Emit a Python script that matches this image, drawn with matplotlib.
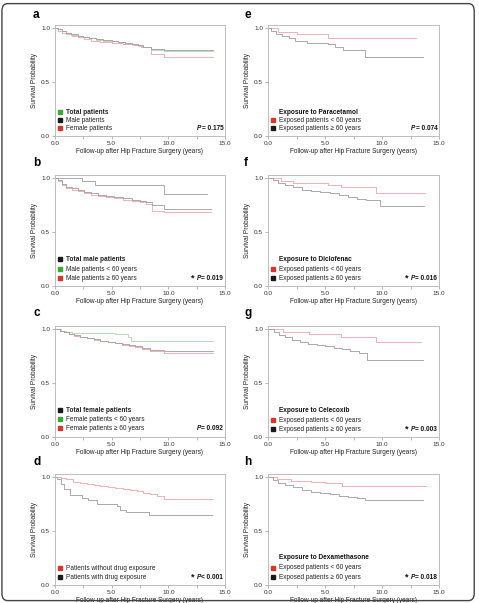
import matplotlib
matplotlib.use('Agg')
import matplotlib.pyplot as plt
from matplotlib.patches import FancyBboxPatch

plt.rcParams['font.family'] = ['Liberation Sans', 'DejaVu Sans']

# ---- data (follow-up years / survival probability) ----
a_total_t = [0, 0.3, 0.6, 1.0, 1.4, 2.0, 2.5, 3.0, 3.6, 4.2, 5.0, 5.6, 6.2, 6.8, 7.3, 7.8, 8.5, 9.6, 13.9]
a_total_s = [1.0, 0.99, 0.972, 0.955, 0.94, 0.925, 0.915, 0.905, 0.895, 0.885, 0.878, 0.868, 0.858, 0.848, 0.838, 0.822, 0.80, 0.787, 0.787]
a_male_t = [0, 0.3, 0.6, 1.0, 1.4, 2.0, 2.5, 3.0, 3.6, 4.2, 5.0, 5.6, 6.2, 6.8, 7.3, 7.8, 8.5, 9.6, 13.9]
a_male_s = [1.0, 0.99, 0.975, 0.96, 0.945, 0.93, 0.92, 0.91, 0.90, 0.89, 0.885, 0.875, 0.865, 0.855, 0.845, 0.83, 0.81, 0.80, 0.80]
a_female_t = [0, 0.3, 0.6, 1.0, 1.5, 2.0, 2.6, 3.2, 4.0, 5.0, 6.0, 7.0, 7.6, 8.5, 9.6, 13.9]
a_female_s = [1.0, 0.975, 0.955, 0.945, 0.93, 0.915, 0.90, 0.885, 0.875, 0.865, 0.855, 0.84, 0.825, 0.765, 0.73, 0.73]

b_total_t = [0, 0.3, 0.6, 1.0, 1.5, 2.0, 2.6, 3.2, 3.8, 4.5, 5.2, 6.0, 6.8, 7.5, 8.0, 8.6, 9.6, 13.8]
b_total_s = [1.0, 0.98, 0.95, 0.915, 0.905, 0.89, 0.875, 0.86, 0.845, 0.835, 0.825, 0.815, 0.80, 0.79, 0.78, 0.75, 0.715, 0.715]
b_young_t = [0, 2.4, 3.5, 9.6, 13.4]
b_young_s = [1.0, 0.97, 0.935, 0.85, 0.85]
b_old_t = [0, 0.3, 0.6, 1.0, 1.5, 2.0, 2.6, 3.2, 3.8, 4.5, 5.2, 6.0, 6.8, 7.5, 8.0, 8.6, 9.6, 13.8]
b_old_s = [1.0, 0.975, 0.94, 0.905, 0.895, 0.88, 0.862, 0.847, 0.832, 0.822, 0.812, 0.80, 0.787, 0.775, 0.762, 0.70, 0.69, 0.69]

c_total_t = [0, 0.4, 0.8, 1.2, 1.7, 2.2, 2.8, 3.4, 4.0, 4.7, 5.3, 5.9, 6.5, 7.1, 7.7, 8.4, 9.6, 13.9]
c_total_s = [1.0, 0.985, 0.975, 0.96, 0.945, 0.93, 0.92, 0.905, 0.895, 0.885, 0.875, 0.865, 0.85, 0.84, 0.83, 0.81, 0.795, 0.795]
c_young_t = [0, 0.5, 1.0, 1.5, 5.3, 6.4, 6.7, 13.9]
c_young_s = [1.0, 0.985, 0.97, 0.965, 0.955, 0.93, 0.895, 0.895]
c_old_t = [0, 0.4, 0.8, 1.2, 1.7, 2.2, 2.8, 3.4, 4.0, 4.7, 5.3, 5.9, 6.5, 7.1, 7.7, 8.4, 9.6, 13.9]
c_old_s = [1.0, 0.985, 0.973, 0.957, 0.94, 0.925, 0.915, 0.90, 0.89, 0.88, 0.868, 0.858, 0.843, 0.832, 0.82, 0.80, 0.782, 0.782]

d_nodrug_t = [0, 0.5, 1.0, 1.6, 2.2, 2.8, 3.4, 4.0, 4.7, 5.3, 6.0, 6.6, 7.2, 7.8, 8.4, 9.0, 9.6, 13.9]
d_nodrug_s = [1.0, 0.99, 0.98, 0.96, 0.945, 0.935, 0.925, 0.915, 0.905, 0.90, 0.89, 0.88, 0.87, 0.855, 0.84, 0.825, 0.80, 0.80]
d_drug_t = [0, 0.2, 0.5, 0.8, 1.3, 2.4, 2.9, 3.7, 5.45, 5.7, 6.3, 8.3, 13.85]
d_drug_s = [1.0, 0.98, 0.94, 0.89, 0.835, 0.81, 0.785, 0.755, 0.735, 0.70, 0.68, 0.645, 0.645]

e_young_t = [0, 0.9, 2.5, 5.3, 13.0]
e_young_s = [1.0, 0.965, 0.945, 0.905, 0.905]
e_old_t = [0, 0.3, 0.7, 1.2, 1.8, 2.4, 3.4, 5.3, 5.9, 6.6, 8.5, 13.6]
e_old_s = [1.0, 0.975, 0.95, 0.93, 0.905, 0.885, 0.865, 0.85, 0.83, 0.80, 0.73, 0.73]

f_young_t = [0, 1.1, 2.2, 5.3, 6.4, 9.5, 13.8]
f_young_s = [1.0, 0.97, 0.955, 0.94, 0.915, 0.865, 0.865]
f_old_t = [0, 0.4, 0.9, 1.5, 2.2, 3.0, 3.8, 4.6, 5.4, 6.2, 7.0, 7.8, 8.6, 9.8, 13.7]
f_old_s = [1.0, 0.98, 0.955, 0.935, 0.915, 0.895, 0.88, 0.87, 0.86, 0.845, 0.825, 0.805, 0.795, 0.745, 0.745]

g_young_t = [0, 1.3, 3.6, 6.4, 9.5, 13.4]
g_young_s = [1.0, 0.97, 0.955, 0.925, 0.88, 0.88]
g_old_t = [0, 0.5, 1.0, 1.5, 2.1, 2.8, 3.5, 4.3, 5.0, 5.8, 6.5, 7.2, 8.0, 8.7, 13.6]
g_old_s = [1.0, 0.975, 0.95, 0.925, 0.90, 0.88, 0.86, 0.85, 0.84, 0.825, 0.815, 0.795, 0.78, 0.71, 0.71]

h_young_t = [0, 0.8, 2.0, 3.8, 5.0, 6.5, 13.9]
h_young_s = [1.0, 0.98, 0.965, 0.955, 0.945, 0.92, 0.92]
h_old_t = [0, 0.4, 0.9, 1.5, 2.2, 3.0, 3.8, 4.6, 5.4, 6.2, 7.0, 7.8, 8.5, 13.6]
h_old_s = [1.0, 0.975, 0.95, 0.925, 0.905, 0.885, 0.865, 0.855, 0.845, 0.83, 0.82, 0.81, 0.785, 0.785]

p_values = ['0.175', '0.019', '0.092', '< 0.001', '0.074', '0.016', '0.003', '0.018']
significant = [False, True, False, True, False, True, True, True]
panel_letters = ['a', 'b', 'c', 'd', 'e', 'f', 'g', 'h']
drug_names = ['Paracetamol', 'Diclofenac', 'Celecoxib', 'Dexamethasone']

# colours
LINE_GREY = '#a3a3a3'
LINE_PINK = '#efabab'
LINE_GREEN = '#b2d8b2'
SQ_GREEN = '#3aa935'
SQ_BLACK = '#1a1a1a'
SQ_RED = '#d8352b'

W, H = 479, 603
fig = plt.figure(figsize=(W / 100, H / 100), dpi=100)

# rounded outer frame
fig.patches.append(FancyBboxPatch((0.004, 0.004), 0.986, 0.990,
                                  boxstyle='round,pad=0,rounding_size=0.012',
                                  transform=fig.transFigure, fill=False,
                                  edgecolor='#444444', linewidth=1.0))

col_x = [55, 268]
col_w = [170, 171]
row_bottom = [136, 286, 437, 585]
ax_h = 111


def make_axes(col, row):
    left = col_x[col] / W
    bottom = 1 - row_bottom[row] / H
    ax = fig.add_axes([left, bottom, col_w[col] / W, ax_h / H])
    ax.set_xlim(0, 15)
    ax.set_ylim(0, 1.03)
    ax.set_xticks([0, 5, 10, 15])
    ax.set_xticklabels(['0.0', '5.0', '10.0', '15.0'])
    ax.set_xticks([2.5, 7.5, 12.5], minor=True)
    ax.set_yticks([0, 0.5, 1.0])
    ax.set_yticklabels(['0.0', '0.5', '1.0'])
    ax.tick_params(axis='both', which='both', labelsize=4.6, length=2,
                   width=0.5, color='#999999', pad=1.5, labelcolor='#333333')
    for sp in ax.spines.values():
        sp.set_color('#bdbdbd')
        sp.set_linewidth(0.7)
    ax.set_xlabel('Follow-up after Hip Fracture Surgery (years)', fontsize=4.7,
                  labelpad=1.5, color='#222222')
    ax.set_ylabel('Survival Probability', fontsize=4.7, labelpad=2.5, color='#222222')
    return ax


def add_legend(ax, items, title=None, title_y=None):
    if title is not None:
        ax.text(0.064, title_y, title, transform=ax.transAxes, fontsize=4.7,
                fontweight='bold', va='center', ha='left', color='#111111')
    for label, color, y, bold in items:
        ax.plot([0.03], [y], marker='s', markersize=2.8, color=color,
                transform=ax.transAxes, clip_on=False)
        ax.text(0.064, y, label, transform=ax.transAxes, fontsize=4.7,
                fontweight='bold' if bold else 'normal', va='center', ha='left',
                color='#222222')


def add_pvalue(ax, p, star, y):
    num = ax.text(0.99, y, '= ' + p if not p.startswith('<') else p,
                  transform=ax.transAxes, fontsize=4.7, fontweight='bold',
                  ha='right', va='center', color='#111111')
    pl = ax.annotate('P', xy=(0, 0.5), xycoords=num, fontsize=4.7, fontweight='bold',
                     fontstyle='italic', ha='right', va='center', color='#111111')
    if star:
        ax.annotate('* ', xy=(0, 0.45), xycoords=pl, fontsize=6.5, fontweight='bold',
                    ha='right', va='center', color='#111111')


def km(ax, t, s, color):
    ax.step(t, s, where='post', color=color, linewidth=0.65)


def letter(col, row, txt):
    x = [33, 244][col] / W
    y = 1 - [15, 163, 313, 462][row] / H
    fig.text(x, y, txt, fontsize=8.5, fontweight='bold', ha='left', va='center')


# ---- left column ----
ax = make_axes(0, 0)
km(ax, a_total_t, a_total_s, LINE_GREEN)
km(ax, a_female_t, a_female_s, LINE_PINK)
km(ax, a_male_t, a_male_s, LINE_GREY)
add_legend(ax, [('Total patients', SQ_GREEN, 0.216, True),
                ('Male patients', SQ_BLACK, 0.144, False),
                ('Female patients', SQ_RED, 0.072, False)])
add_pvalue(ax, p_values[0], significant[0], 0.072)

ax = make_axes(0, 1)
km(ax, b_young_t, b_young_s, LINE_GREY)
km(ax, b_old_t, b_old_s, LINE_PINK)
km(ax, b_total_t, b_total_s, LINE_GREY)
add_legend(ax, [('Total male patients', SQ_BLACK, 0.243, True),
                ('Male patients < 60 years', SQ_GREEN, 0.153, False),
                ('Male patients \u2265 60 years', SQ_RED, 0.072, False)])
add_pvalue(ax, p_values[1], significant[1], 0.072)

ax = make_axes(0, 2)
km(ax, c_young_t, c_young_s, LINE_GREEN)
km(ax, c_old_t, c_old_s, LINE_PINK)
km(ax, c_total_t, c_total_s, LINE_GREY)
add_legend(ax, [('Total female patients', SQ_BLACK, 0.243, True),
                ('Female patients < 60 years', SQ_GREEN, 0.16, False),
                ('Female patients \u2265 60 years', SQ_RED, 0.078, False)])
add_pvalue(ax, p_values[2], significant[2], 0.078)

ax = make_axes(0, 3)
km(ax, d_nodrug_t, d_nodrug_s, LINE_PINK)
km(ax, d_drug_t, d_drug_s, LINE_GREY)
add_legend(ax, [('Patients without drug exposure', SQ_RED, 0.153, False),
                ('Patients with drug exposure', SQ_BLACK, 0.072, False)])
add_pvalue(ax, p_values[3], significant[3], 0.072)

# ---- right column: one panel per drug ----
right_curves = [(e_young_t, e_young_s, e_old_t, e_old_s),
                (f_young_t, f_young_s, f_old_t, f_old_s),
                (g_young_t, g_young_s, g_old_t, g_old_s),
                (h_young_t, h_young_s, h_old_t, h_old_s)]
title_ys = [0.216, 0.24, 0.24, 0.25]
item_ys = [(0.144, 0.072), (0.15, 0.07), (0.15, 0.07), (0.156, 0.07)]
for i, (yt, ys, ot, os_) in enumerate(right_curves):
    ax = make_axes(1, i)
    km(ax, yt, ys, LINE_PINK)
    km(ax, ot, os_, LINE_GREY)
    add_legend(ax, [('Exposed patients < 60 years', SQ_RED, item_ys[i][0], False),
                    ('Exposed patients \u2265 60 years', SQ_BLACK, item_ys[i][1], False)],
               title='Exposure to ' + drug_names[i], title_y=title_ys[i])
    add_pvalue(ax, p_values[4 + i], significant[4 + i], item_ys[i][1])

for i, l in enumerate(panel_letters):
    letter(i // 4, i % 4, l)

fig.savefig('out.png', dpi=100)
